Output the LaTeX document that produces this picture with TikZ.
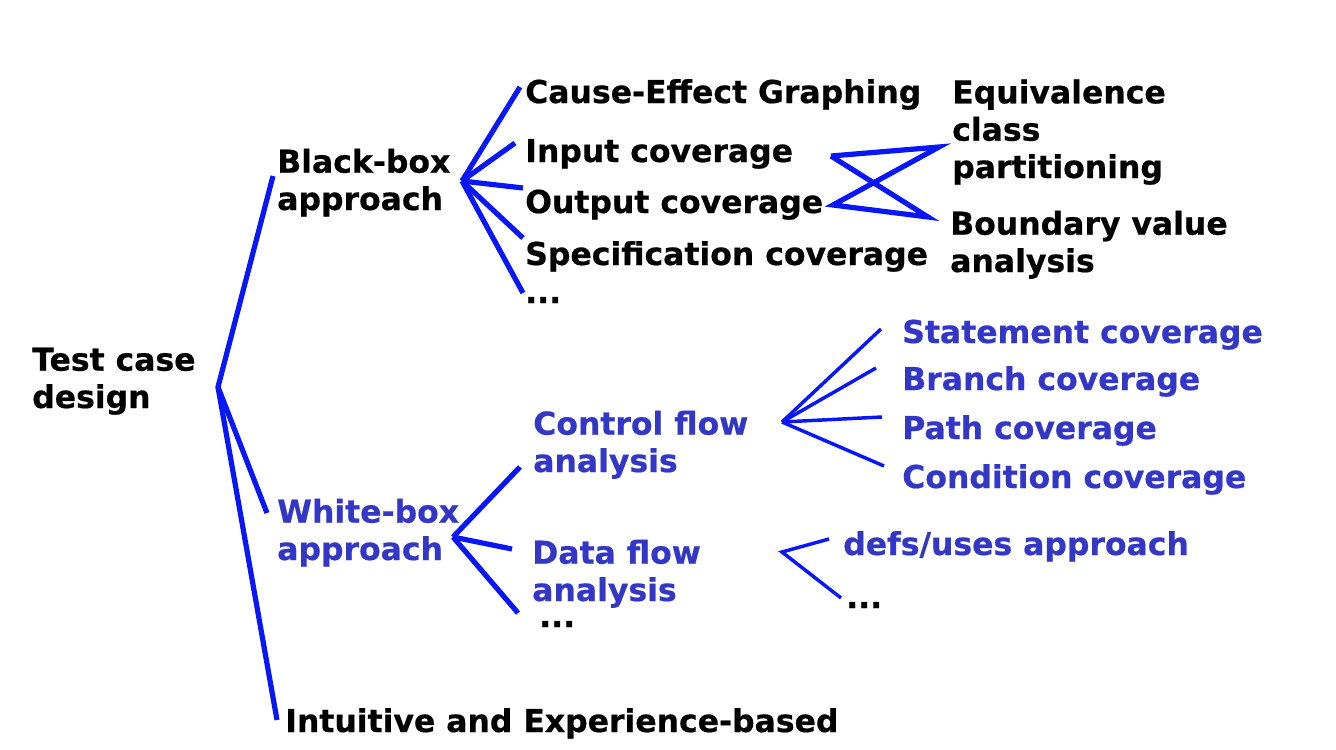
\documentclass[tikz,border=0pt]{standalone}
\usepackage{fontspec}
\setmainfont{DejaVu Sans}[BoldFeatures={FakeBold=0.6}]
\definecolor{linkblue}{RGB}{8,22,250}
\definecolor{wbblue}{RGB}{51,55,200}
\begin{document}
\begin{tikzpicture}[x=0.75pt,y=-0.75pt,
	lbl/.style={anchor=base west, inner sep=0pt, align=left, font=\fontsize{23.6}{28}\selectfont\bfseries},
	wlbl/.style={lbl, text=wbblue},
	dots/.style={lbl, text height=4pt, text depth=0pt},
	thickln/.style={linkblue, line width=3.9pt},
	thinln/.style={linkblue, line width=2.6pt}]
\useasboundingbox (0,0) rectangle (1336,750);
\node[lbl] (tcd) at (32,408) {Test case\\design};
\node[lbl] (bb) at (277,210) {Black-box\\approach};
\node[wlbl] (wb) at (277,560) {White-box\\approach};
\node[lbl] (intu) at (285,732) {Intuitive and Experience-based};
\node[lbl] (cause) at (525,103) {Cause-Effect Graphing};
\node[lbl] (input) at (525,162) {Input coverage};
\node[lbl] (output) at (525,213) {Output coverage};
\node[lbl] (spec) at (525,265) {Specification coverage};
\node[dots] (bbdots) at (525,303) {...};
\node[lbl] (equiv) at (952,178) {Equivalence\\class\\partitioning};
\node[lbl] (bound) at (950,272) {Boundary value\\analysis};
\node[wlbl] (ctrl) at (533,472) {Control flow\\analysis};
\node[wlbl] (data) at (532,601) {Data flow\\analysis};
\node[dots] (wbdots) at (539,627) {...};
\node[wlbl] (stmt) at (902,343) {Statement coverage};
\node[wlbl] (branch) at (902,390) {Branch coverage};
\node[wlbl] (path) at (902,439) {Path coverage};
\node[wlbl] (cond) at (902,488) {Condition coverage};
\node[wlbl] (defs) at (843,555) {defs/uses approach};
\node[dots] (dfdots) at (846,608) {...};
\coordinate (tcdj) at (218,387);
\coordinate (bbj) at (462,181);
\coordinate (wbj) at (453,537);
\coordinate (ctrlj) at (782,422);
\coordinate (dataj) at (782,552);
\coordinate (inj) at (831,156);
\coordinate (outj) at (833,205);
\draw[thickln] ([shift={(-4,-34)}]bb.base west) -- (tcdj) -- ([shift={(-10,-47)}]wb.base west);
\draw[thickln] (tcdj) -- ([shift={(-8,-12)}]intu.base west);
\draw[thickln] (bbj) -- ([shift={(-5,-16)}]cause.base west);
\draw[thickln] (bbj) -- ([shift={(-10,-19)}]input.base west);
\draw[thickln] (bbj) -- ([shift={(-2,-25)}]output.base west);
\draw[thickln] (bbj) -- ([shift={(-2,-27)}]spec.base west);
\draw[thickln] (bbj) -- ([shift={(-2,-10)}]bbdots.base west);
\draw[thickln] (inj) -- ([shift={(-13,-31)}]equiv.base west) -- (outj) -- ([shift={(-22,-55)}]bound.base west) -- (inj);
\draw[thickln] (wbj) -- ([shift={(-13,-5)}]ctrl.base west);
\draw[thickln] (wbj) -- ([shift={(-20,-52)}]data.base west);
\draw[thickln] (wbj) -- ([shift={(-21,-14)}]wbdots.base west);
\draw[thinln] (ctrlj) -- ([shift={(-21,-14)}]stmt.base west);
\draw[thinln] (ctrlj) -- ([shift={(-26,-22)}]branch.base west);
\draw[thinln] (ctrlj) -- ([shift={(-20,-22)}]path.base west);
\draw[thinln] (ctrlj) -- ([shift={(-18,-22)}]cond.base west);
\draw[thinln] ([shift={(-14,-16)}]defs.base west) -- (dataj) -- ([shift={(-5,-10)}]dfdots.base west);
\end{tikzpicture}
\end{document}
